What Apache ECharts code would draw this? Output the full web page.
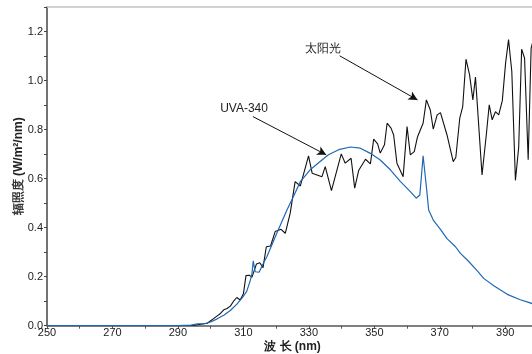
<!DOCTYPE html>
<html>
<head>
<meta charset="utf-8">
<script src="https://cdn.jsdelivr.net/npm/echarts@6/dist/echarts.min.js"></script>
<style>
  html, body { margin: 0; padding: 0; background: #fff; }
  #chart { width: 532px; height: 354px; }
</style>
</head>
<body>
<div id="chart"></div>
<script>
// 太阳光 (black)
const sunWl = [290, 295, 297, 299, 300, 301, 302, 303, 304, 305, 306, 307, 308, 309, 310, 310.8, 311.8, 312.6, 314, 315, 316, 317, 318.3, 319.7, 321.5, 322.8, 324.3, 325.8, 327.4, 329.9, 331, 332.5, 334, 335, 336.9, 339.9, 341.1, 342.9, 344, 345.2, 347.3, 348.8, 349.8, 351, 351.8, 353.1, 353.9, 355.1, 355.9, 356.9, 358.8, 360, 361, 362.2, 363.2, 364.9, 365.9, 367.1, 368, 369.2, 370.2, 372.2, 374.1, 374.9, 376.1, 377, 378, 379.1, 380.1, 380.9, 382.9, 384.2, 385.1, 386, 387, 388, 389.1, 390.1, 391, 392, 393.1, 394.1, 395, 395.9, 397, 397.9, 398.3];
const sunVal = [0, 0.002, 0.006, 0.01, 0.02, 0.03, 0.04, 0.05, 0.065, 0.07, 0.08, 0.1, 0.115, 0.105, 0.13, 0.205, 0.206, 0.197, 0.252, 0.257, 0.237, 0.322, 0.325, 0.384, 0.393, 0.377, 0.459, 0.588, 0.57, 0.693, 0.622, 0.615, 0.608, 0.649, 0.551, 0.701, 0.663, 0.683, 0.561, 0.633, 0.679, 0.66, 0.761, 0.742, 0.704, 0.738, 0.826, 0.806, 0.778, 0.663, 0.608, 0.812, 0.697, 0.71, 0.771, 0.826, 0.921, 0.88, 0.802, 0.86, 0.869, 0.778, 0.669, 0.687, 0.847, 0.894, 1.087, 1.023, 0.921, 1.014, 0.615, 0.778, 0.901, 0.84, 0.873, 0.86, 0.918, 1.071, 1.167, 1.037, 0.593, 0.727, 1.128, 1.091, 0.677, 1.132, 1.153];

// UVA-340 (blue)
const uvaWl = [250, 290, 294, 296, 298, 300, 302, 304, 306, 308, 310, 311, 312, 312.6, 313, 313.6, 314.8, 316.1, 317.2, 320.2, 323.3, 325.3, 327.4, 330.4, 334, 336, 339.1, 342.7, 345.7, 348.8, 351.8, 354.9, 358, 361, 362.8, 363.9, 364.9, 365.9, 366.6, 368, 370.2, 372.2, 374.8, 376.3, 378.4, 381.4, 383.4, 386.5, 390.6, 394.6, 398.3];
const uvaVal = [0, 0, 0.002, 0.008, 0.008, 0.015, 0.028, 0.043, 0.062, 0.088, 0.12, 0.14, 0.18, 0.21, 0.264, 0.22, 0.218, 0.255, 0.282, 0.377, 0.472, 0.527, 0.588, 0.636, 0.676, 0.697, 0.718, 0.729, 0.724, 0.703, 0.676, 0.636, 0.588, 0.547, 0.52, 0.533, 0.693, 0.567, 0.472, 0.431, 0.393, 0.355, 0.322, 0.295, 0.268, 0.225, 0.193, 0.163, 0.128, 0.106, 0.09];

// annotations: [label, textX, textY, arrowFrom, arrowTo]
const notes = [
  ['太阳光', 334.4, 1.131, [339.4, 1.101], [363.2, 0.921]],
  ['UVA-340', 310.2, 0.884, [312.9, 0.853], [335.3, 0.697]]
];

const pairs = (xs, ys) => xs.map((x, i) => [x, ys[i]]);

const chart = echarts.init(document.getElementById('chart'));
const font = 'Liberation Sans, Arial, sans-serif';

chart.setOption({
  animation: false,
  textStyle: { fontFamily: font },
  grid: { left: 47, top: 7, width: 491, height: 318.7, outerBoundsMode: 'none', containLabel: false },
  xAxis: [
    {
      type: 'value',
      min: 250,
      max: 400,
      interval: 10,
      name: '波 长 (nm)',
      nameLocation: 'middle',
      nameGap: 15,
      nameMoveOverlap: false,
      nameTextStyle: { fontSize: 12, fontWeight: 'bold', color: '#222', fontFamily: font },
      splitLine: { show: false },
      axisLine: { lineStyle: { color: '#555', width: 1.5 } },
      axisTick: { length: 3, lineStyle: { color: '#555' } },
      axisLabel: {
        fontSize: 11,
        color: '#222',
        margin: 2,
        formatter: v => ((v - 250) % 20 === 0 ? String(v) : '')
      }
    },
    {
      type: 'value',
      position: 'top',
      min: 250,
      max: 400,
      axisLine: { show: true, lineStyle: { color: '#c4c4c4', width: 1.5 } },
      axisTick: { show: false },
      axisLabel: { show: false },
      splitLine: { show: false }
    }
  ],
  yAxis: {
    type: 'value',
    min: 0,
    max: 1.3,
    interval: 0.1,
    name: '辐照度 {b|(W/m²/nm)}',
    nameLocation: 'middle',
    nameGap: 22,
    nameMoveOverlap: false,
    nameRotate: 90,
    nameTextStyle: {
      fontSize: 12,
      fontWeight: 'bold',
      color: '#333',
      fontFamily: font,
      rich: { b: { fontSize: 12, fontWeight: 'bold', color: '#222', fontFamily: font } }
    },
    splitLine: { show: false },
    axisLine: { show: true, lineStyle: { color: '#444', width: 1.5 } },
    axisTick: { show: true, length: 3, lineStyle: { color: '#444' } },
    axisLabel: {
      fontSize: 11,
      color: '#222',
      margin: 4,
      formatter: v => (Math.round(v * 10) % 2 === 0 ? v.toFixed(1) : '')
    }
  },
  series: [
    {
      name: '太阳光',
      type: 'line',
      data: pairs(sunWl, sunVal),
      symbol: 'none',
      lineStyle: { color: '#111', width: 1.1 },
      markLine: {
        silent: true,
        symbol: ['none', 'arrow'],
        symbolSize: [7, 9],
        lineStyle: { color: '#111', width: 1, type: 'solid' },
        label: { show: false },
        data: notes.map(n => [{ coord: n[3] }, { coord: n[4] }])
      },
      markPoint: {
        silent: true,
        symbol: 'circle',
        symbolSize: 0,
        label: {
          show: true,
          position: 'inside',
          fontSize: 12,
          color: '#222',
          fontFamily: font,
          formatter: p => p.name
        },
        data: notes.map(n => ({ name: n[0], coord: [n[1], n[2]] }))
      }
    },
    {
      name: 'UVA-340',
      type: 'line',
      data: pairs(uvaWl, uvaVal),
      symbol: 'none',
      lineStyle: { color: '#1f68b4', width: 1.2 }
    }
  ]
});
</script>
</body>
</html>
